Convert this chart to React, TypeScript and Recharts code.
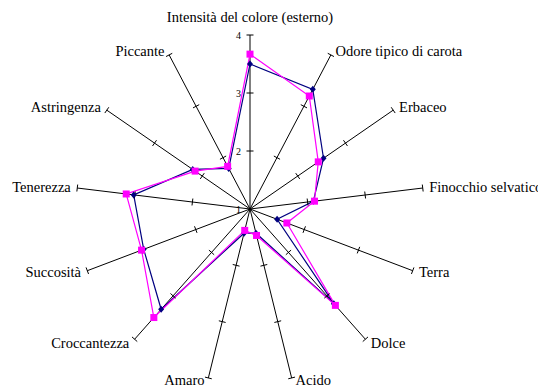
import { RadarChart, Radar, PolarGrid, PolarAngleAxis, PolarRadiusAxis } from 'recharts';

const attributes = [
  'Intensità del colore (esterno)',
  'Odore tipico di carota',
  'Erbaceo',
  'Finocchio selvatico',
  'Terra',
  'Dolce',
  'Acido',
  'Amaro',
  'Croccantezza',
  'Succosità',
  'Tenerezza',
  'Astringenza',
  'Piccante',
];
const seriesA = [3.5, 3.33, 2.54, 2.1, 1.5, 3.18, 1.43, 1.43, 3.31, 2.96, 3.02, 2.2, 1.79];
const seriesB = [3.67, 3.2, 2.43, 2.12, 1.68, 3.22, 1.47, 1.38, 3.5, 3.0, 3.15, 2.15, 1.83];
const radiusTicks = [1, 2, 3, 4];

const data = attributes.map((name, i) => ({ name, a: seriesA[i], b: seriesB[i] }));

const W = 538;
const H = 381;
const CX = 242;
const CY = 201;
const R = 174;
const MIN = 1;
const MAX = 4;
const FONT = '"Liberation Serif", "Times New Roman", serif';

const rad = (deg: number) => (deg * Math.PI) / 180;

function AngleTick(props: any) {
  const { payload } = props;
  const ang = payload.coordinate;
  const c = Math.cos(rad(ang));
  const s = Math.sin(rad(ang));
  // perpendicular direction
  const px = s;
  const py = c;
  const marks = radiusTicks.filter(v => v > MIN).map(v => {
    const r = (R * (v - MIN)) / (MAX - MIN);
    const x = CX + r * c;
    const y = CY - r * s;
    return (
      <line key={v} x1={x - px * 3.5} y1={y - py * 3.5} x2={x + px * 3.5} y2={y + py * 3.5} stroke="#000" strokeWidth={1} />
    );
  });
  const ex = CX + R * c;
  const ey = CY - R * s;
  let anchor: 'start' | 'end' | 'middle' = 'middle';
  if (c > 0.05) anchor = 'start';
  else if (c < -0.05) anchor = 'end';
  const dx = anchor === 'middle' ? 0 : Math.sign(c) * (3 + 3.5 * Math.abs(c));
  const dy = anchor === 'middle' && s > 0 ? -18 : s < -0.9 ? -s * 2.5 : -s * 5;
  return (
    <g>
      {marks}
      <text x={ex + dx} y={ey + dy} textAnchor={anchor} dominantBaseline="central" fontSize={14.5} fontFamily={FONT} fill="#000">
        {payload.value}
      </text>
    </g>
  );
}

function RadiusTick(props: any) {
  const { x, y, payload } = props;
  return (
    <text x={x - 9} y={y} textAnchor="end" dominantBaseline="central" fontSize={10} fontFamily={FONT} fill="#000">
      {payload.value}
    </text>
  );
}

function Diamond(props: any) {
  const { cx, cy, index } = props;
  return <path key={`d${index}`} d={`M${cx},${cy - 3.5}L${cx + 3},${cy}L${cx},${cy + 3.5}L${cx - 3},${cy}Z`} fill="#000080" stroke="none" />;
}

function Square(props: any) {
  const { cx, cy, index } = props;
  return <rect key={`s${index}`} x={cx - 3.5} y={cy - 3.5} width={7} height={7} fill="#FF00FF" stroke="none" />;
}

export default function App() {
  return (
    <RadarChart width={W} height={H} data={data} cx={CX} cy={CY} outerRadius={R} startAngle={90} endAngle={-270}>
      <PolarGrid polarRadius={[]} stroke="#000" strokeOpacity={1} strokeWidth={1} />
      <PolarAngleAxis dataKey="name" tick={AngleTick} tickLine={false} axisLine={false} />
      <PolarRadiusAxis angle={90} domain={[MIN, MAX]} ticks={radiusTicks} tickCount={4} axisLine={false} tickLine={false} tick={RadiusTick} />
      <Radar dataKey="a" stroke="#000080" strokeWidth={1.2} fill="none" fillOpacity={0} dot={Diamond} isAnimationActive={false} />
      <Radar dataKey="b" stroke="#FF00FF" strokeWidth={1.2} fill="none" fillOpacity={0} dot={Square} isAnimationActive={false} />
    </RadarChart>
  );
}
